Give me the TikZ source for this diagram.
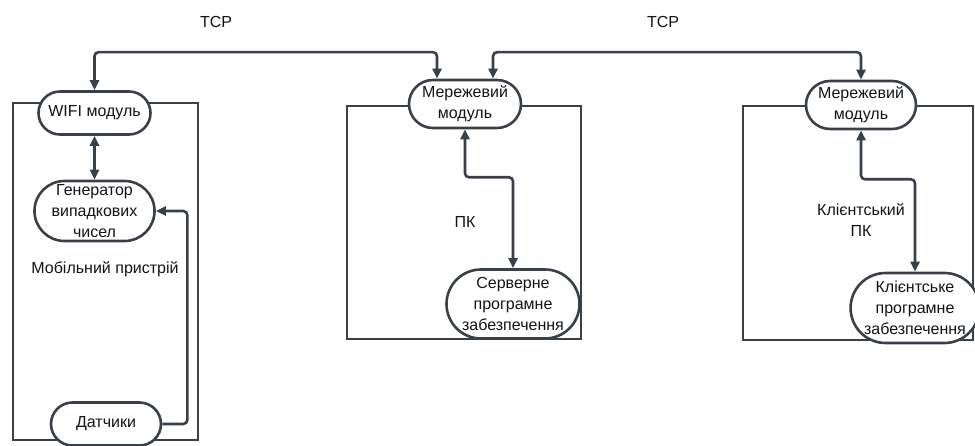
\documentclass[tikz,border=0pt]{standalone}
\usepackage{fontspec}
\setmainfont{Liberation Sans}
\usetikzlibrary{shapes,shapes.misc,arrows,arrows.meta}

\definecolor{linegray}{HTML}{3A404A}
\definecolor{textblack}{HTML}{141414}

\begin{document}
\begin{tikzpicture}[x=1pt,y=-1pt,>={Triangle[length=10pt,width=9pt]},line width=2.6pt,
    every node/.style={text=textblack,font=\fontsize{16}{21}\selectfont},
    term/.style={rounded rectangle,draw=linegray,fill=white,align=center,inner sep=1pt},
    panel/.style={rectangle,draw=linegray},
    link/.style={<->,draw=linegray,rounded corners=4pt}]
    \useasboundingbox (0,0) rectangle (975,446);

    \node[panel,minimum width=185pt,minimum height=337pt] (mobile) at (105.5,271.5) {};
    \node[panel,minimum width=234pt,minimum height=233pt] (server) at (464,222.5) {};
    \node[panel,minimum width=230pt,minimum height=234pt] (client) at (858,223) {};

    \node[term,minimum width=114pt,minimum height=43pt] (wifi) at (94.5,113) {WIFI модуль};
    \node[term,minimum width=114pt,minimum height=60pt] (gen) at (94.5,211) {Генератор\\випадкових\\чисел};
    \node[term,minimum width=112pt,minimum height=43pt] (sens) at (106,424) {Датчики};
    \node[term,minimum width=114pt,minimum height=48pt] (net1) at (465,104) {Мережевий\\модуль};
    \node[term,minimum width=135pt,minimum height=69pt] (srv) at (513,304) {Серверне\\програмне\\забезпечення};
    \node[term,minimum width=112pt,minimum height=48pt] (net2) at (861,105) {Мережевий\\модуль};
    \node[term,minimum width=116pt,minimum height=70pt] (cli) at (915,308) {Клієнтське\\програмне\\забезпечення};

    \node (tcpa) at (216,22) {TCP};
    \node (tcpb) at (663,22) {TCP};
    \node (mobtxt) at (105,269) {Мобільний пристрій};
    \node (pc) at (465,222) {ПК};
    \node[align=center] (clipc) at (861,220) {Клієнтський\\ПК};

    \draw[link] (wifi.north) -- ++(0,-38) -| ([xshift=-28pt]net1.north);
    \draw[link] ([xshift=28pt]net1.north) -- ++(0,-26.5) -| (net2.north);
    \draw[link] (wifi.south) -- (gen.north);
    \draw[->,draw=linegray,rounded corners=4pt] (sens.east) -- ++(25,0) |- (gen.east);
    \draw[link] (net1.south) -- ++(0,48) -| (srv.north);
    \draw[link] (net2.south) -- ++(0,49) -| (cli.north);

\end{tikzpicture}
\end{document}
